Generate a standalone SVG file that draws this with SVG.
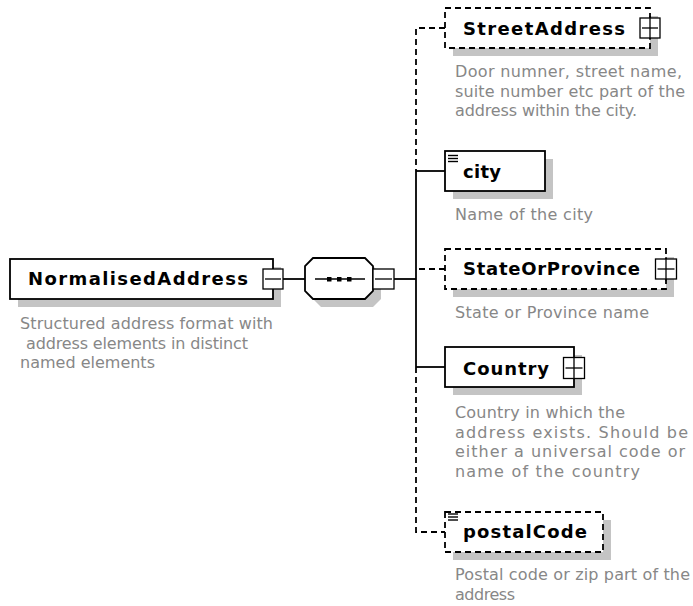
<svg xmlns="http://www.w3.org/2000/svg" width="693" height="606" viewBox="0 0 693 606">
  <style>
    .shadow { fill: #c4c4c4; }
    .box { fill: #ffffff; stroke: #000000; stroke-width: 1.8; }
    .dash { stroke-dasharray: 6 4; }
    .btn { fill: #ffffff; stroke: #000000; stroke-width: 1.3; }
    .mark { stroke: #000000; stroke-width: 1.3; fill: none; }
    .icon { stroke: #000000; stroke-width: 1.4; }
    .name { font-family: "DejaVu Sans", "Liberation Sans", sans-serif; font-weight: bold; font-size: 18px; fill: #000000; }
    .desc { font-family: "DejaVu Sans", "Liberation Sans", sans-serif; font-size: 16px; fill: #878787; }
    .conn { stroke: #000000; stroke-width: 1.8; fill: none; }
  </style>

  <rect x="0" y="0" width="693" height="606" fill="#ffffff"/>

  <!-- connectors -->
  <g id="connectors">
    <line class="conn" x1="283" y1="279" x2="305" y2="279"/>
    <line class="conn" x1="394" y1="279" x2="416" y2="279"/>
    <line class="conn" x1="416" y1="171" x2="416" y2="367"/>
    <line class="conn" x1="416" y1="171" x2="445" y2="171"/>
    <line class="conn" x1="416" y1="367" x2="445" y2="367"/>
    <path class="conn dash" d="M445,28 H416 V171"/>
    <path class="conn dash" d="M445,269 H418"/>
    <path class="conn dash" d="M416,367 V532 H445"/>
  </g>

  <!-- root element -->
  <g id="NormalisedAddress">
    <rect class="shadow" x="18" y="267" width="263" height="40"/>
    <rect class="box" x="10" y="259" width="263" height="40"/>
    <text class="name" x="28" y="285" textLength="220" lengthAdjust="spacing">NormalisedAddress</text>
    <rect class="btn" x="263" y="269" width="20" height="20"/>
    <line class="mark" x1="265" y1="279" x2="281" y2="279"/>
    <text class="desc" x="20" y="329" textLength="253" lengthAdjust="spacing">Structured address format with</text>
    <text class="desc" x="26" y="348.5" textLength="222" lengthAdjust="spacing">address elements in distinct</text>
    <text class="desc" x="20" y="368" textLength="135" lengthAdjust="spacing">named elements</text>
  </g>

  <!-- sequence compositor -->
  <g id="sequence">
    <polygon class="shadow" points="321,266 373,266 381,274 381,299 373,307 321,307 313,299 313,274"/>
    <polygon class="box" points="313,258 365,258 373,266 373,291 365,299 313,299 305,291 305,266"/>
    <line x1="315" y1="279" x2="365" y2="279" stroke="#000000" stroke-width="1.6"/>
    <rect x="327" y="277" width="4.5" height="4.5" fill="#000000"/>
    <rect x="337" y="277" width="4.5" height="4.5" fill="#000000"/>
    <rect x="347" y="277" width="4.5" height="4.5" fill="#000000"/>
    <rect class="btn" x="373" y="269" width="21" height="20"/>
    <line class="mark" x1="375" y1="279" x2="392" y2="279"/>
  </g>

  <!-- StreetAddress (optional) -->
  <g id="StreetAddress">
    <rect class="shadow" x="453" y="16" width="205" height="40"/>
    <rect class="box dash" x="445" y="8" width="205" height="40"/>
    <text class="name" x="463" y="35" textLength="162" lengthAdjust="spacing">StreetAddress</text>
    <rect class="btn" x="640" y="18" width="20" height="20"/>
    <line class="mark" x1="642" y1="28" x2="658" y2="28"/>
    <line class="mark" x1="650" y1="16" x2="650" y2="40"/>
    <text class="desc" x="455" y="77" textLength="227" lengthAdjust="spacing">Door numner, street name,</text>
    <text class="desc" x="455" y="96.5" textLength="230" lengthAdjust="spacing">suite number etc part of the</text>
    <text class="desc" x="455" y="116" textLength="182" lengthAdjust="spacing">address within the city.</text>
  </g>

  <!-- city -->
  <g id="city">
    <rect class="shadow" x="453" y="159" width="100" height="40"/>
    <rect class="box" x="445" y="151" width="100" height="40"/>
    <line class="icon" x1="448" y1="155.5" x2="458" y2="155.5"/>
    <line class="icon" x1="448" y1="158.5" x2="458" y2="158.5"/>
    <line class="icon" x1="448" y1="161.5" x2="458" y2="161.5"/>
    <text class="name" x="463" y="178" textLength="38" lengthAdjust="spacing">city</text>
    <text class="desc" x="455" y="220" textLength="138" lengthAdjust="spacing">Name of the city</text>
  </g>

  <!-- StateOrProvince (optional) -->
  <g id="StateOrProvince">
    <rect class="shadow" x="453" y="257" width="221" height="40"/>
    <rect class="box dash" x="445" y="249" width="221" height="40"/>
    <text class="name" x="463" y="275" textLength="177" lengthAdjust="spacing">StateOrProvince</text>
    <rect class="btn" x="655.5" y="259" width="21" height="20"/>
    <line class="mark" x1="657.5" y1="269" x2="674.5" y2="269"/>
    <line class="mark" x1="666" y1="257" x2="666" y2="281"/>
    <text class="desc" x="455" y="318" textLength="194" lengthAdjust="spacing">State or Province name</text>
  </g>

  <!-- Country -->
  <g id="Country">
    <rect class="shadow" x="453" y="355" width="129" height="40"/>
    <rect class="box" x="445" y="347" width="129" height="40"/>
    <text class="name" x="463" y="375" textLength="86" lengthAdjust="spacing">Country</text>
    <rect class="btn" x="563.5" y="357.5" width="21" height="21"/>
    <line class="mark" x1="565.5" y1="368" x2="582.5" y2="368"/>
    <line class="mark" x1="574" y1="357.5" x2="574" y2="378.5"/>
    <text class="desc" x="455" y="418" textLength="170" lengthAdjust="spacing">Country in which the</text>
    <text class="desc" x="455" y="437.7" textLength="233" lengthAdjust="spacing">address exists. Should be</text>
    <text class="desc" x="455" y="457.4" textLength="230" lengthAdjust="spacing">either a universal code or</text>
    <text class="desc" x="455" y="477" textLength="185" lengthAdjust="spacing">name of the country</text>
  </g>

  <!-- postalCode (optional) -->
  <g id="postalCode">
    <rect class="shadow" x="453" y="520" width="158" height="40"/>
    <rect class="box dash" x="445" y="512" width="158" height="40"/>
    <line class="icon" x1="448" y1="514" x2="458" y2="514"/>
    <line class="icon" x1="448" y1="517" x2="458" y2="517"/>
    <line class="icon" x1="448" y1="520" x2="458" y2="520"/>
    <text class="name" x="463" y="538" textLength="124" lengthAdjust="spacing">postalCode</text>
    <text class="desc" x="455" y="580" textLength="235" lengthAdjust="spacing">Postal code or zip part of the</text>
    <text class="desc" x="455" y="599.5" textLength="60" lengthAdjust="spacing">address</text>
  </g>
</svg>
